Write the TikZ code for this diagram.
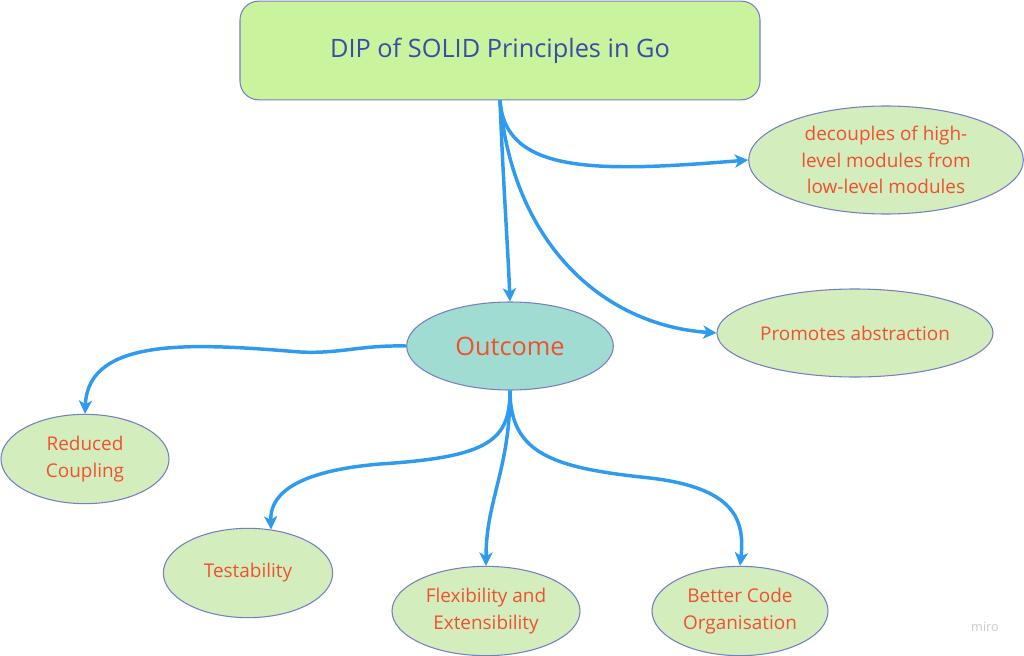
\documentclass[tikz,border=0pt]{standalone}
\usepackage{fontspec}
\setmainfont{Open Sans}
\usetikzlibrary{arrows.meta,shapes.geometric,calc}
\definecolor{titlefill}{HTML}{C9F39C}
\definecolor{titletext}{HTML}{3C4AA8}
\definecolor{leaffill}{HTML}{D4EDBC}
\definecolor{outfill}{HTML}{A0DCD1}
\definecolor{leaftext}{HTML}{F0502E}
\definecolor{edgeline}{HTML}{7480C4}
\definecolor{arrowblue}{HTML}{2E9BF0}
\definecolor{wmark}{HTML}{C8C8D8}
\tikzset{
  leaf/.style={ellipse, draw=edgeline, line width=0.8pt, fill=leaffill, inner sep=0pt,
    text=leaftext, font=\fontsize{14.2}{19.8}\selectfont, align=center},
  conn/.style={draw=arrowblue, line width=2.6pt, -{Stealth[length=10pt,width=10pt,inset=2.8pt]}}
}
\begin{document}
\begin{tikzpicture}[x=0.75pt,y=-0.75pt]
\useasboundingbox (0,0) rectangle (1024,656);
\node[rounded corners=14pt, draw=edgeline, line width=0.8pt, fill=titlefill, minimum width=390pt, minimum height=74pt, inner sep=0pt, text=titletext, font=\fontsize{19}{22}\selectfont] (title) at (500,50.5) {DIP of SOLID Principles in Go};
\node[leaf, minimum width=206pt, minimum height=81pt] (decouple) at (886,160) {decouples of high-\\level modules from\\low-level modules};
\node[leaf, minimum width=207pt, minimum height=66pt] (promote) at (855,333) {Promotes abstraction};
\node[ellipse, draw=edgeline, line width=0.8pt, fill=outfill, inner sep=0pt, minimum width=155pt, minimum height=66pt, text=leaftext, font=\fontsize{19}{22}\selectfont] (outcome) at (510,346) {Outcome};
\node[leaf, minimum width=126pt, minimum height=67pt] (reduced) at (85,459) {Reduced\\Coupling};
\node[leaf, minimum width=127pt, minimum height=67pt] (testab) at (248,573) {Testability};
\node[leaf, minimum width=141pt, minimum height=67pt] (flex) at (486,611) {Flexibility and\\Extensibility};
\node[leaf, minimum width=132pt, minimum height=67pt] (better) at (740,611) {Better Code\\Organisation};
\node[text=wmark, font=\fontsize{9.5}{11}\selectfont] (miro) at (985,627) {miro};

\draw[conn] (title.south) .. controls (505,175) and (600,172) .. (decouple.west);
\draw[conn] (title.south) .. controls (503,180) and (508,250) .. (outcome.north);
\draw[conn] (title.south) .. controls (512,240) and (600,325) .. (promote.west);
\draw[conn] (outcome.west) .. controls (360,345) and (340,354) .. (300,352) .. controls (200,344) and (88,335) .. (reduced.north);
\draw[conn] (outcome.south) .. controls (510,440) and (490,457) .. (380,464) .. controls (285,472) and (270,500) .. (testab.62);
\draw[conn] (outcome.south) .. controls (510,470) and (486,500) .. (flex.north);
\draw[conn] (outcome.south) .. controls (510,455) and (555,468) .. (650,478) .. controls (735,488) and (745,520) .. (better.north);
\end{tikzpicture}
\end{document}
